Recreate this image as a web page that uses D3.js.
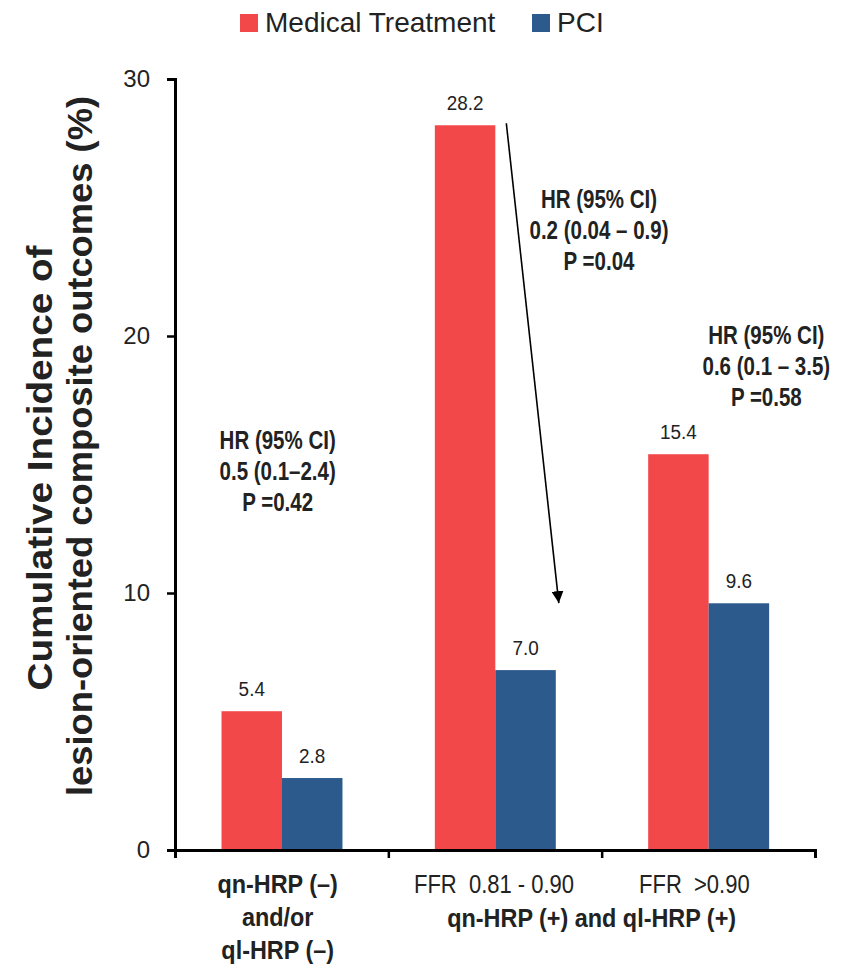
<!DOCTYPE html>
<html>
<head>
<meta charset="utf-8">
<script src="https://cdnjs.cloudflare.com/ajax/libs/d3/7.8.5/d3.min.js"></script>
<style>
  body { margin: 0; background: #fff; }
  text { font-family: "Liberation Sans", Arial, sans-serif; fill: #222; }
</style>
</head>
<body>
<div id="chart"></div>
<script>
// data
var groups = ["neg", "ffr81", "ffr90"];
var series = ["Medical Treatment", "PCI"];
var medical = [5.4, 28.2, 15.4];
var pci = [2.8, 7.0, 9.6];
var yTicks = [0, 10, 20, 30];
var hrText = [
    ["HR (95% CI)", "0.5 (0.1\u20132.4)", "P =0.42"],
    ["HR (95% CI)", "0.2 (0.04 \u2013 0.9)", "P =0.04"],
    ["HR (95% CI)", "0.6 (0.1 \u2013 3.5)", "P =0.58"]
];
var colors = ["#F24849", "#2C5A8D"];

var width = 865, height = 970;
var plotLeft = 175, plotRight = 815, plotBottom = 850, plotTop = 79;

var svg = d3.select("#chart").append("svg")
    .attr("width", width)
    .attr("height", height);

// narrow-looking text: squeeze horizontally around the anchor point
function squeezed(parent, tx, ty, sx, str) {
    return parent.append("g")
        .attr("transform", "translate(" + tx + "," + ty + ") scale(" + sx + ",1)")
        .append("text")
        .attr("text-anchor", "middle")
        .attr("xml:space", "preserve")
        .text(str);
}

var x = d3.scaleBand().domain(groups).range([plotLeft, plotRight]).padding(0);
var x1 = d3.scaleBand().domain(series)
    .range([x.bandwidth() * 0.218, x.bandwidth() * 0.785]).padding(0);
var y = d3.scaleLinear().domain([0, 30]).range([plotBottom, plotTop]);
var xEdge = d3.scaleLinear().domain([0, groups.length]).range([plotLeft, plotRight]);

// legend
var legend = svg.append("g");
var legendX = [240, 532];
series.forEach(function(s, i) {
    legend.append("rect")
        .attr("x", legendX[i]).attr("y", 14)
        .attr("width", 18).attr("height", 18)
        .attr("fill", colors[i]);
    legend.append("text")
        .attr("x", legendX[i] + 25).attr("y", 32)
        .attr("font-size", 28)
        .text(s);
});

// bars
var rows = groups.map(function(g, i) {
    return { group: g, values: [medical[i], pci[i]] };
});

var bar = svg.selectAll(".grp")
    .data(rows)
    .enter().append("g")
    .attr("class", "grp")
    .attr("transform", function(d) { return "translate(" + x(d.group) + ",0)"; });

bar.selectAll("rect")
    .data(function(d) { return d.values.map(function(v, j) { return { s: series[j], v: v, j: j }; }); })
    .enter().append("rect")
    .attr("x", function(d) { return x1(d.s); })
    .attr("y", function(d) { return y(d.v); })
    .attr("width", x1.bandwidth())
    .attr("height", function(d) { return y(0) - y(d.v); })
    .attr("fill", function(d) { return colors[d.j]; });

bar.each(function(d) {
    var g = d3.select(this);
    d.values.forEach(function(v, j) {
        squeezed(g, x1(series[j]) + x1.bandwidth() / 2, y(v) - 15, 0.9, v.toFixed(1))
            .attr("font-size", 21);
    });
});

// axes
var yAxis = d3.axisLeft(y).tickValues(yTicks).tickSize(8).tickSizeOuter(8).tickPadding(17);
var gy = svg.append("g")
    .attr("transform", "translate(" + plotLeft + ",0)")
    .call(yAxis);
gy.selectAll("text").attr("font-size", 24).style("font-family", "'Liberation Sans', Arial, sans-serif").attr("fill", "#222");

var xAxis = d3.axisBottom(xEdge).tickValues(d3.range(groups.length + 1))
    .tickFormat("").tickSize(8).tickSizeOuter(8);
var gx = svg.append("g")
    .attr("transform", "translate(0," + plotBottom + ")")
    .call(xAxis);

svg.selectAll(".domain").attr("stroke", "#000").attr("stroke-width", 3);
svg.selectAll(".tick line").attr("stroke", "#000").attr("stroke-width", 2.5);

// y label
var yLab = [["Cumulative Incidence of", 52, 468, 445], ["lesion-oriented composite outcomes (%)", 92, 446, 700]];
yLab.forEach(function(l) {
    svg.append("text")
        .attr("transform", "translate(" + l[1] + "," + l[2] + ") rotate(-90)")
        .attr("text-anchor", "middle")
        .attr("font-size", 35.5)
        .attr("font-weight", "bold")
        .attr("textLength", l[3])
        .attr("lengthAdjust", "spacingAndGlyphs")
        .text(l[0]);
});

// x labels
var cx = function(i) { return x(groups[i]) + x.bandwidth() / 2; };
var xl = svg.append("g");
[["qn-HRP (\u2013)", 893], ["and/or", 926], ["ql-HRP (\u2013)", 959]].forEach(function(l) {
    squeezed(xl, cx(0) - 4, l[1], 0.9, l[0]).attr("font-size", 26).attr("font-weight", "bold");
});
squeezed(xl, cx(1) - 1, 893, 0.88, "FFR  0.81 - 0.90").attr("font-size", 25);
squeezed(xl, cx(2) - 14, 893, 0.88, "FFR  >0.90").attr("font-size", 25);
squeezed(xl, (cx(1) + cx(2)) / 2 - 10, 927, 0.9, "qn-HRP (+) and ql-HRP (+)")
    .attr("font-size", 26).attr("font-weight", "bold");

// HR annotations
var hrPos = [[cx(0) - 4, 15.6], [cx(1) + 104, 25.0], [cx(2) + 58, 19.7]];
hrText.forEach(function(lines, i) {
    lines.forEach(function(t, k) {
        squeezed(svg, hrPos[i][0], y(hrPos[i][1]) + k * 31, 0.82, t)
            .attr("font-size", 25)
            .attr("font-weight", "bold");
    });
});

// arrow from medical bar top to PCI bar
svg.append("defs").append("marker")
    .attr("id", "head")
    .attr("viewBox", "0 0 10 10")
    .attr("refX", 10).attr("refY", 5)
    .attr("markerWidth", 12).attr("markerHeight", 12)
    .attr("markerUnits", "userSpaceOnUse")
    .attr("orient", "auto")
    .append("path").attr("d", "M0,0 L10,5 L0,10 z").attr("fill", "#000");

var bx = x(groups[1]);
svg.append("line")
    .attr("x1", bx + x1("Medical Treatment") + x1.bandwidth() + 11)
    .attr("y1", y(medical[1]) - 2)
    .attr("x2", bx + x1("PCI") + x1.bandwidth() + 3)
    .attr("y2", y(pci[1]) - 67)
    .attr("stroke", "#000")
    .attr("stroke-width", 1.6)
    .attr("marker-end", "url(#head)");
</script>
</body>
</html>
